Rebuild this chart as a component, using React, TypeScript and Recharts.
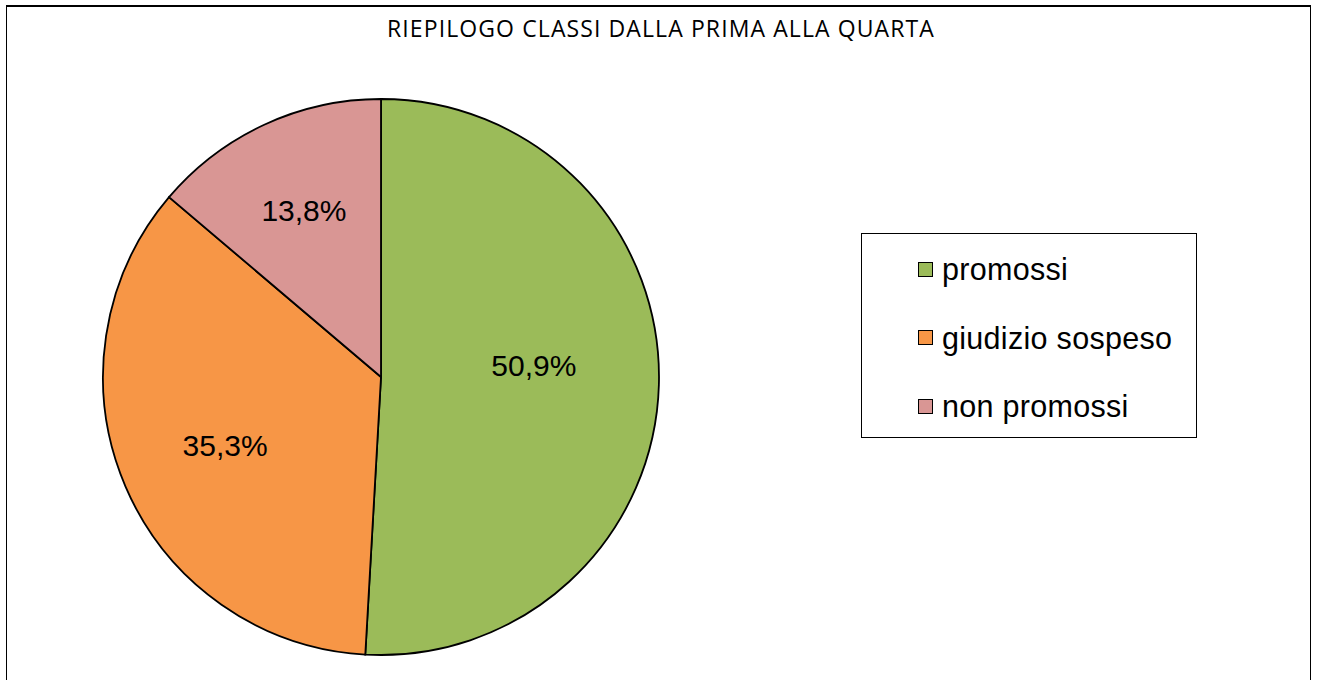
import { PieChart, Pie, Cell, Legend } from 'recharts';

const categories = ['promossi', 'giudizio sospeso', 'non promossi'];
const percentages = [50.9, 35.3, 13.8];
const colors = ['#9BBB59', '#F79646', '#D99694'];
// label placement tweaks (fraction of radius, vertical nudge in px)
const labelRadius = [0.55, 0.61, 0.66];
const labelNudgeY = [-16, 2, 0];

const data = categories.map((name, i) => ({ name, value: percentages[i] }));

const RADIAN = Math.PI / 180;

const renderLabel = (props: any) => {
  const { cx, cy, midAngle, outerRadius, index, value } = props;
  const r = outerRadius * labelRadius[index];
  const x = cx + r * Math.cos(-midAngle * RADIAN);
  const y = cy + r * Math.sin(-midAngle * RADIAN) + labelNudgeY[index];
  return (
    <text
      x={x}
      y={y}
      textAnchor="middle"
      dominantBaseline="central"
      fill="#000"
      fontSize={30}
      fontFamily="'Liberation Sans', Arial, sans-serif"
    >
      {value.toFixed(1).replace('.', ',')}%
    </text>
  );
};

const renderLegend = () => (
  <div
    style={{
      width: 336,
      height: 205,
      border: '1.5px solid #000',
      background: '#fff',
      boxSizing: 'border-box',
      paddingTop: 1,
      fontFamily: "'Liberation Sans', Arial, sans-serif",
      fontSize: 30.5,
      letterSpacing: 0.3,
    }}
  >
    {data.map((d, i) => (
      <div
        key={d.name}
        style={{ display: 'flex', alignItems: 'center', height: 68.5, paddingLeft: 56 }}
      >
        <span
          style={{
            display: 'inline-block',
            width: 13,
            height: 13,
            background: colors[i],
            border: '1.5px solid #000',
            marginRight: 9,
          }}
        />
        <span style={{ color: '#000', lineHeight: 1 }}>{d.name}</span>
      </div>
    ))}
  </div>
);

export default function App() {
  return (
    <div
      style={{
        position: 'absolute',
        left: 0,
        top: 0,
        width: 1317,
        height: 680,
        overflow: 'hidden',
        background: '#fff',
      }}
    >
      <div
        style={{
          position: 'absolute',
          left: 6,
          top: 5,
          width: 1305,
          height: 700,
          borderTop: '2.5px solid #000',
          borderLeft: '1.5px solid #000',
          borderRight: '1.5px solid #000',
          boxSizing: 'border-box',
        }}
      />
      <div
        style={{
          position: 'absolute',
          left: 0,
          top: 12,
          width: 1322,
          textAlign: 'center',
          fontFamily: "'Open Sans', sans-serif",
          fontSize: 23,
          letterSpacing: 1.1,
          color: '#000',
        }}
      >
        RIEPILOGO CLASSI DALLA PRIMA ALLA QUARTA
      </div>
      <PieChart
        width={1317}
        height={680}
        margin={{ top: 0, right: 0, bottom: 0, left: 0 }}
        style={{ position: 'absolute', left: 0, top: 0 }}
      >
        <Pie
          data={data}
          dataKey="value"
          nameKey="name"
          cx={381}
          cy={377}
          outerRadius={278}
          startAngle={90}
          endAngle={-270}
          stroke="#000"
          strokeWidth={1.8}
          label={renderLabel}
          labelLine={false}
          isAnimationActive={false}
        >
          {data.map((d, i) => (
            <Cell key={d.name} fill={colors[i]} />
          ))}
        </Pie>
        <Legend
          content={renderLegend}
          layout="vertical"
          wrapperStyle={{ position: 'absolute', left: 861, top: 233, width: 336 }}
        />
      </PieChart>
    </div>
  );
}
